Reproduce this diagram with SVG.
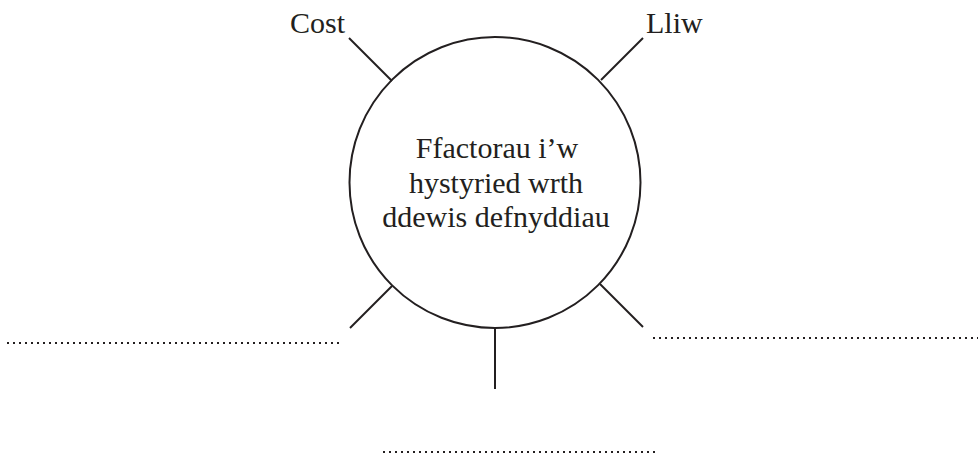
<svg xmlns="http://www.w3.org/2000/svg" width="978" height="457" viewBox="0 0 978 457">
<style>
.ln{stroke:#231f20;stroke-width:2;fill:none}
.dot{stroke:#231f20;stroke-width:2;stroke-dasharray:2 4;fill:none}
.t{font-family:"Liberation Serif","Times New Roman",serif;font-size:30px;fill:#231f20}
</style>
<rect width="978" height="457" fill="#fff"/>
<g id="connectors">
<line class="ln" x1="349" y1="38" x2="392" y2="81"/>
<line class="ln" x1="643" y1="38" x2="601" y2="80"/>
<line class="ln" x1="350" y1="328" x2="392" y2="286"/>
<line class="ln" x1="643" y1="327" x2="600" y2="284"/>
<line class="ln" x1="495" y1="327" x2="495" y2="389"/>
</g>
<g id="center">
<circle class="ln" cx="495" cy="182.5" r="145.5"/>
<text class="t" text-anchor="middle" x="497" y="158">Ffactorau i’w</text>
<text class="t" text-anchor="middle" x="496" y="192.5">hystyried wrth</text>
<text class="t" text-anchor="middle" x="496" y="227">ddewis defnyddiau</text>
</g>
<g id="cost"><text class="t" x="290" y="33">Cost</text></g>
<g id="lliw"><text class="t" x="646" y="33">Lliw</text></g>
<g id="blank-left"><line class="dot" x1="7" y1="343" x2="341" y2="343"/></g>
<g id="blank-right"><line class="dot" x1="653" y1="338" x2="978" y2="338"/></g>
<g id="blank-bottom"><line class="dot" x1="383" y1="452" x2="658" y2="452"/></g>
</svg>
